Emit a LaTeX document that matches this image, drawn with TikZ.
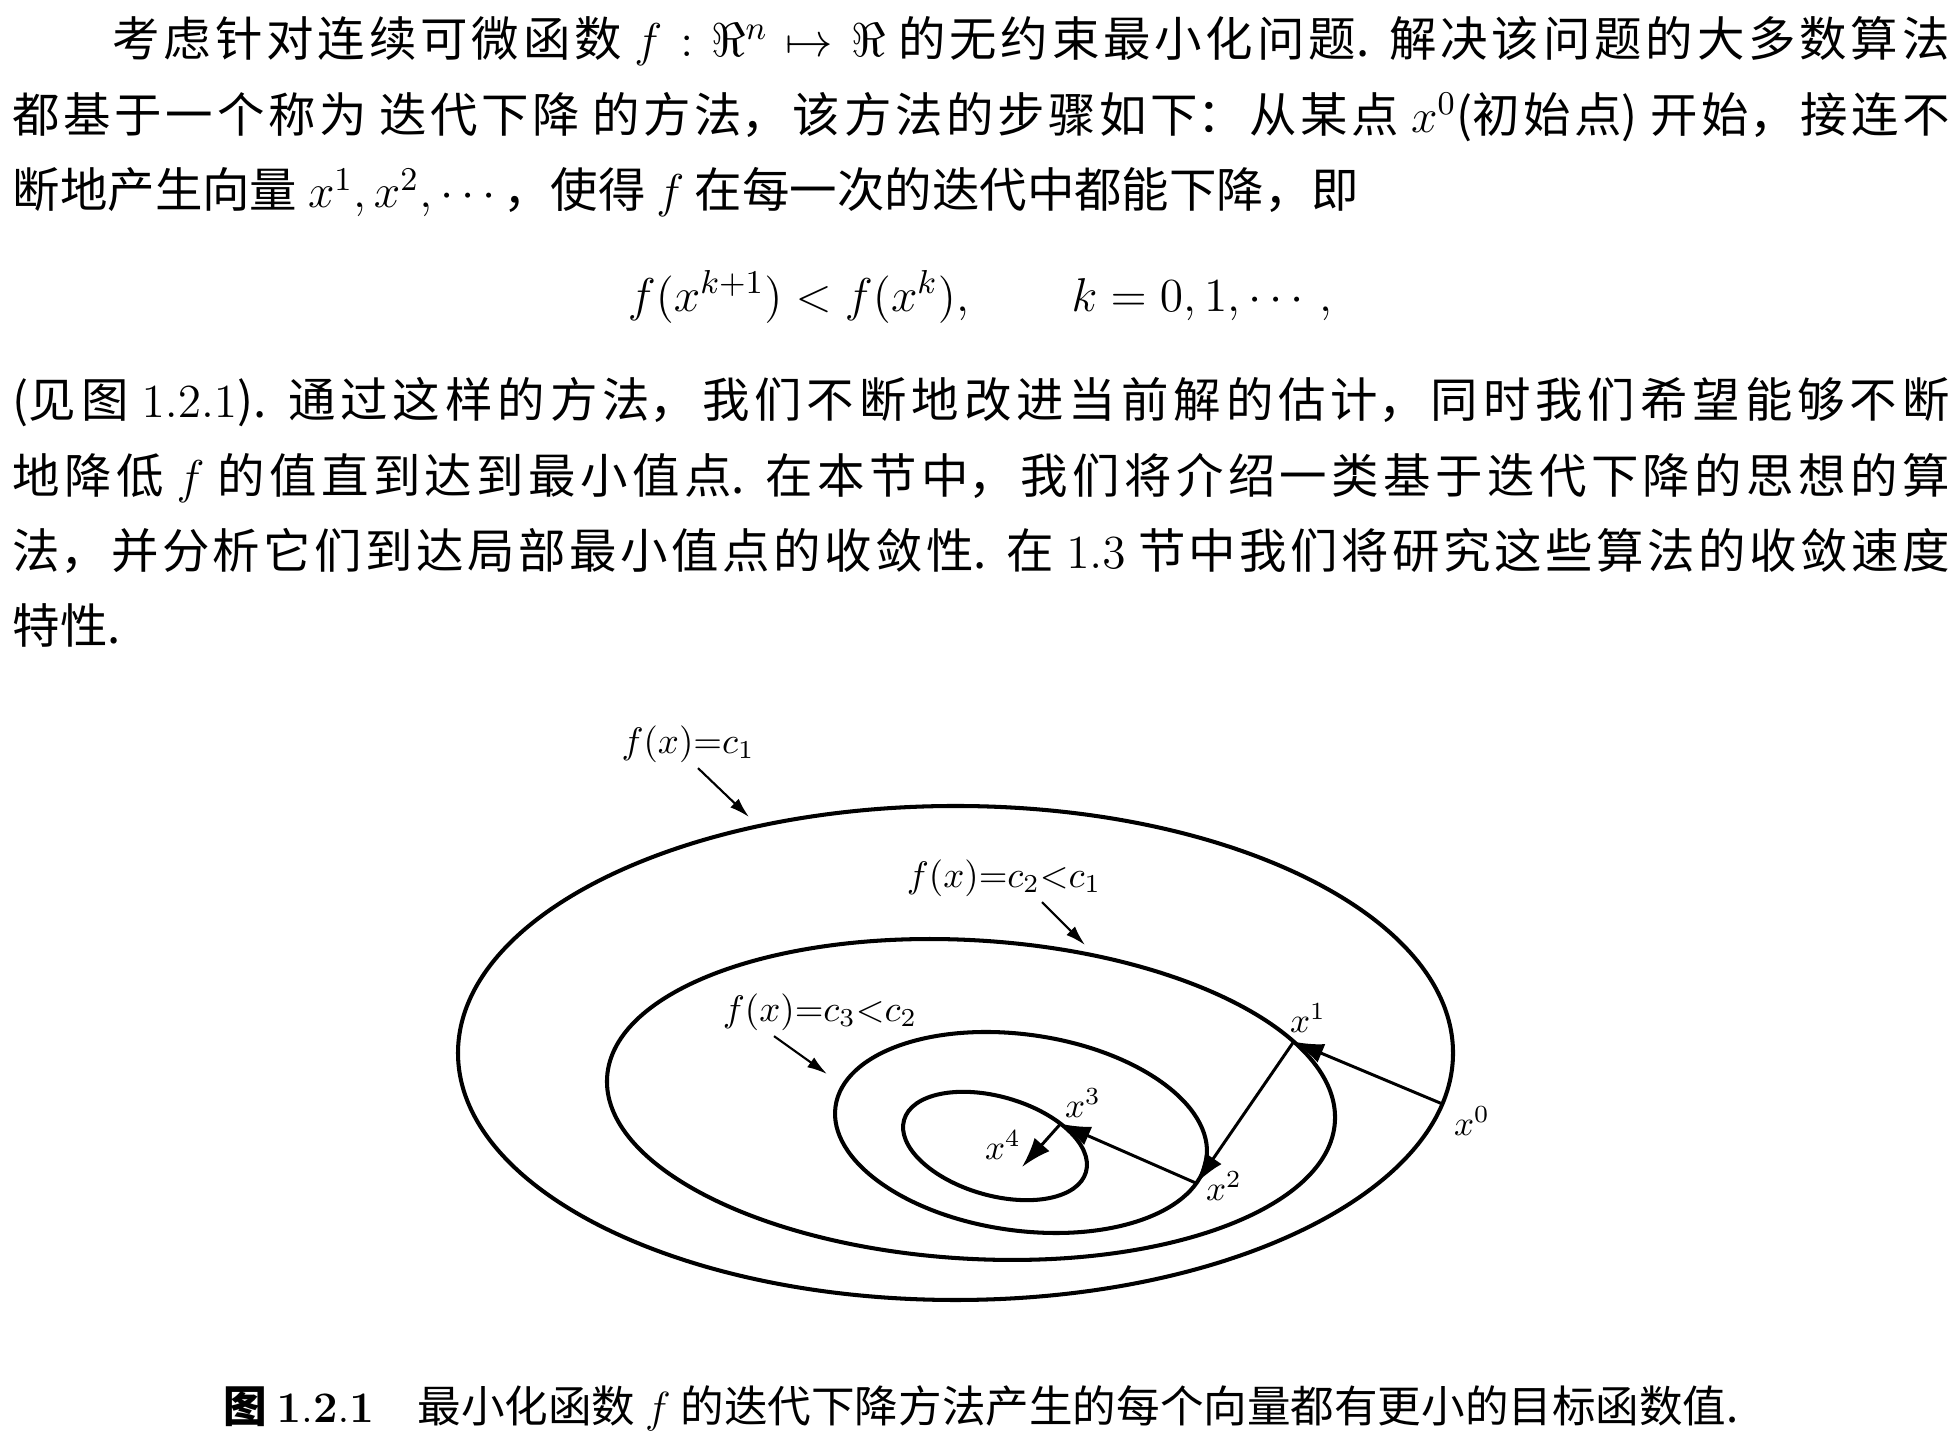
\RequirePackage{fix-cm}
\documentclass[tikz,border=0pt]{standalone}
\usepackage{amsmath}
\usepackage{amssymb}
\usepackage[no-math]{fontspec}
\setmainfont{Noto Sans CJK SC}
\usepackage{tikz}
\usetikzlibrary{arrows.meta}
\usetikzlibrary{positioning}
\XeTeXlinebreaklocale "zh"
\XeTeXlinebreakskip=0pt plus 3pt
\newcommand{\levelset}[4]{\draw[levelline] (0,0) ellipse [x radius=#1, y radius=#2];
					\coordinate (#3) at (#4);}
\newcommand{\iterstep}[2]{\draw[iterarrow] (#1) -- (#2);}
\tikzset{
	levelline/.style={line width=1.15pt},
	iterarrow/.style={line width=0.85pt, -{Latex[length=3mm,width=2mm]}},
	labelarrow/.style={line width=0.6pt, -{Latex[length=2mm,width=1.2mm]}},
	textblock/.style={anchor=north west, inner sep=0pt, text width=19.37cm, align=justify, font=\fontsize{13.5pt}{21.43pt}\selectfont},
	levellabel/.style={inner sep=0pt, font=\fontsize{10.5pt}{12pt}\selectfont},
	pointlabel/.style={inner sep=0pt, font=\fontsize{10pt}{12pt}\selectfont}
}

\begin{document}
\begin{tikzpicture}
				\useasboundingbox (0,0) rectangle (19.58,14.5);
				
				% text above the figure
				\node[textblock] (para1) at (0.12,14.34) {\noindent\hspace*{1cm}考虑针对连续可微函数 $f:\Re^n\mapsto\Re$ 的无约束最小化问题. 解决该问题的大多数算法\linebreak
					都基于一个称为 迭代下降 的方法，该方法的步骤如下：从某点 $x^0$(初始点) 开始，接连不\linebreak
					断地产生向量 $x^1,x^2,\cdots$，使得 $f$ 在每一次的迭代中都能下降，即};
				\node[font=\fontsize{13.5pt}{16pt}\selectfont] (eq) at (9.8,11.53) {$f(x^{k+1})<f(x^k),\qquad k=0,1,\cdots,$};
				\node[textblock] (para2) at (0.12,10.73) {\noindent(见图 $1.2.1$). 通过这样的方法，我们不断地改进当前解的估计，同时我们希望能够不断\linebreak
					地降低 $f$ 的值直到达到最小值点. 在本节中，我们将介绍一类基于迭代下降的思想的算\linebreak
					法，并分析它们到达局部最小值点的收敛性. 在 $1.3$ 节中我们将研究这些算法的收敛速度\linebreak
					特性.};
				
				% level sets, each with the iterate lying on it
				\begin{scope}[shift={(9.555,3.97)}]
					\levelset{4.975cm}{2.47cm}{x0}{-11.9:4.975cm and 2.47cm}
				\end{scope}
				\begin{scope}[shift={(9.71,3.505)}, rotate=-3.5]
					\levelset{3.646cm}{1.592cm}{x1}{29.1:3.646cm and 1.592cm}
				\end{scope}
				\begin{scope}[shift={(10.21,3.175)}, rotate=-8]
					\levelset{1.873cm}{0.98cm}{x2}{-15.3:1.873cm and 0.98cm}
				\end{scope}
				\begin{scope}[shift={(9.95,3.04)}, rotate=-16]
					\levelset{0.946cm}{0.494cm}{x3}{53:0.946cm and 0.494cm}
				\end{scope}
				\coordinate (x4) at (10.22,2.83);
				
				\node[levellabel] (lc1) at (6.88,7.06) {$f(x){=}c_1$};
				\node[levellabel] (lc2) at (10.04,5.72) {$f(x){=}c_2{<}c_1$};
				\node[levellabel] (lc3) at (8.20,4.38) {$f(x){=}c_3{<}c_2$};
				\coordinate (c1tip) at (7.49,6.33);
				\coordinate (c2tip) at (10.85,5.05);
				\coordinate (c3tip) at (8.27,3.76);
				\draw[labelarrow] ([xshift=1mm,yshift=-0.5mm]lc1.south) -- (c1tip);
				\draw[labelarrow] ([xshift=3.8mm,yshift=-0.5mm]lc2.south) -- (c2tip);
				\draw[labelarrow] ([xshift=-4.6mm,yshift=-0.5mm]lc3.south) -- (c3tip);
				
				% iterates
				\iterstep{x0}{x1}
				\iterstep{x1}{x2}
				\iterstep{x2}{x3}
				\iterstep{x3}{x4}
				\node[pointlabel] (lx0) at (14.72,3.29) {$x^0$};
				\node[pointlabel] (lx1) at (13.08,4.32) {$x^1$};
				\node[pointlabel] (lx2) at (12.24,2.64) {$x^2$};
				\node[pointlabel] (lx3) at (10.83,3.47) {$x^3$};
				\node[pointlabel] (lx4) at (10.03,3.05) {$x^4$};
				
				\node[font=\fontsize{12.4pt}{15pt}\selectfont] (caption) at (9.81,0.42) {\textbf{图} $\mathbf{1.2.1}$\quad 最小化函数 $f$ 的迭代下降方法产生的每个向量都有更小的目标函数值.};
				
\end{tikzpicture}
\end{document}
